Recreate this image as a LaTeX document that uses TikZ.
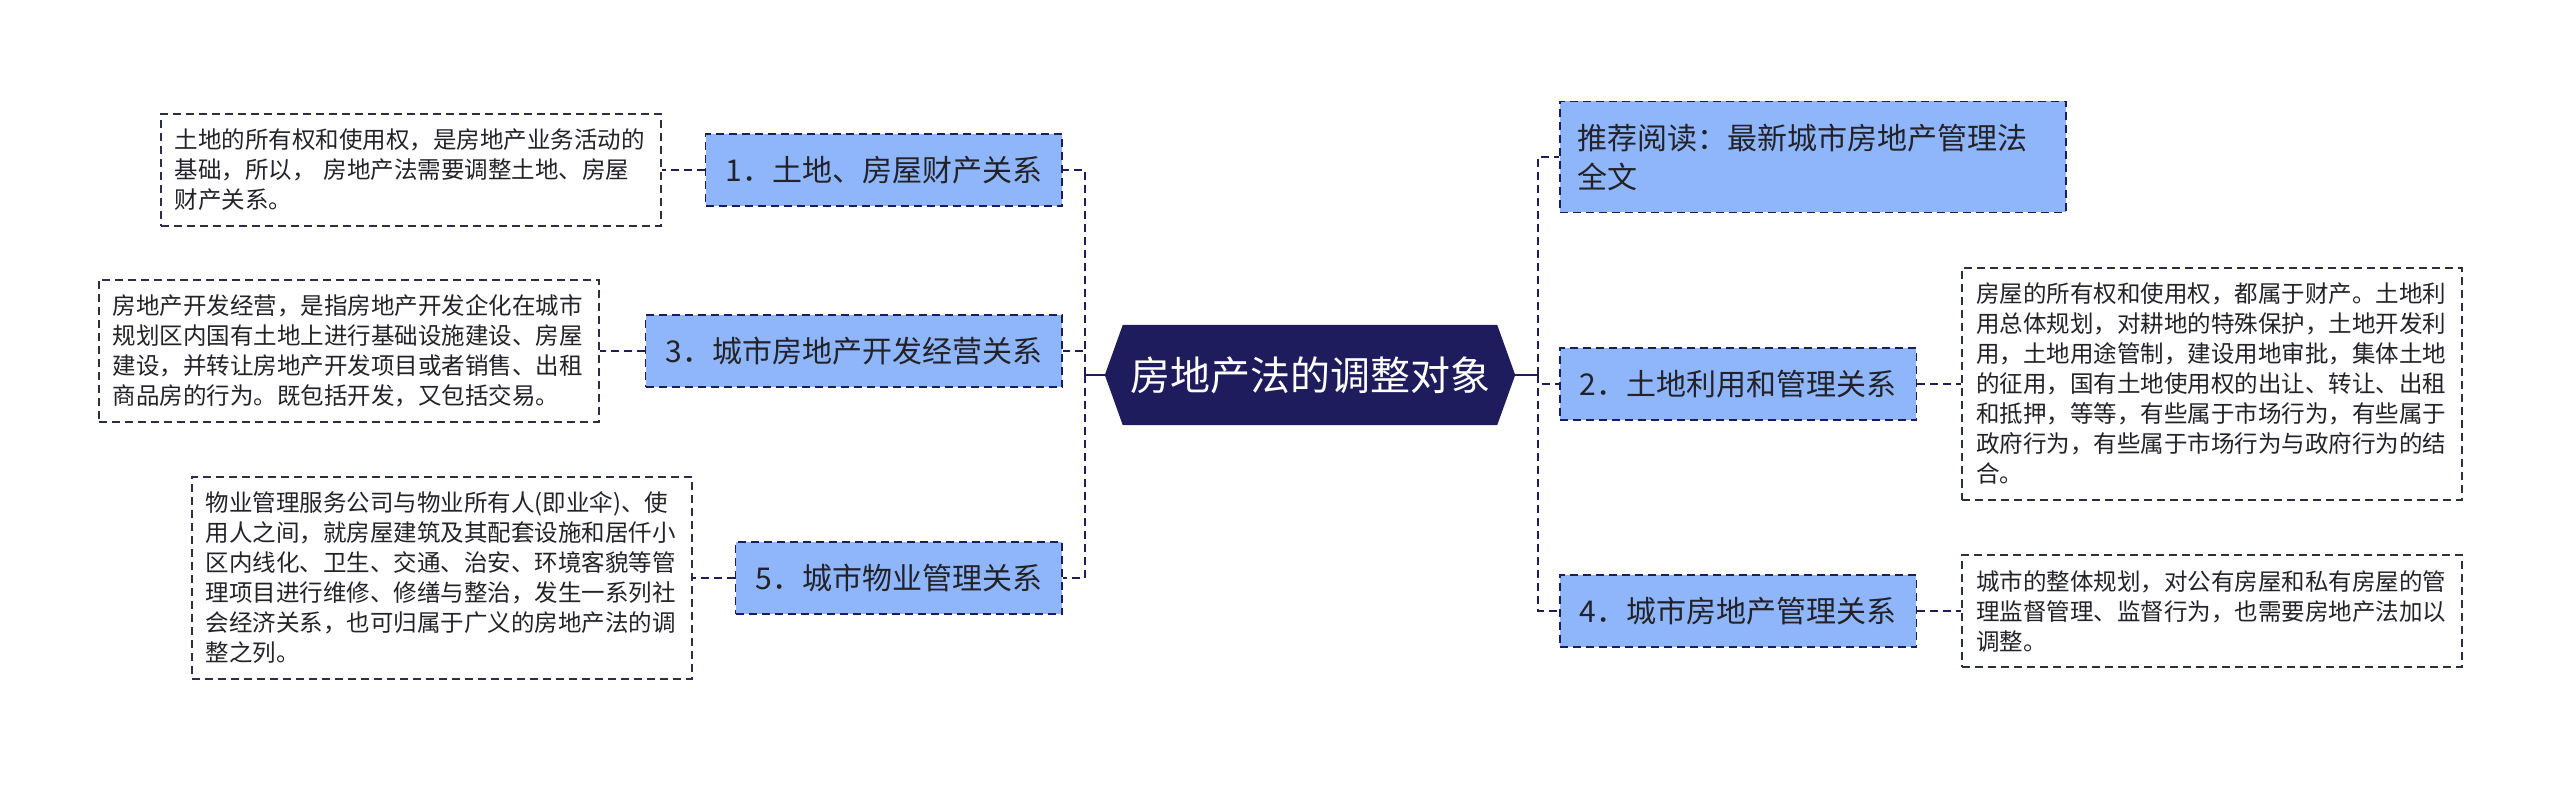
\documentclass[tikz,border=0pt]{standalone}
\usepackage{fontspec}
\setmainfont{Noto Sans CJK SC}
\usetikzlibrary{positioning,backgrounds}
\definecolor{navy}{RGB}{30,28,92}
\definecolor{branchfill}{RGB}{143,181,250}
\definecolor{leafline}{RGB}{45,45,70}
\definecolor{txt}{RGB}{34,34,40}

\begin{document}
\begin{tikzpicture}[x=1pt, y=-1pt,
    root/.style={minimum width=374pt, minimum height=100pt, inner sep=0pt, text=white, font=\fontsize{40}{48}\selectfont},
    branch/.style={fill=branchfill, draw=navy, line width=1.6pt, dash pattern=on 8pt off 5pt, minimum height=72pt, inner xsep=20pt, inner ysep=0pt, text=txt, font=\fontsize{30}{39}\selectfont},
    leaf/.style={draw=leafline, line width=1.6pt, dash pattern=on 8pt off 5pt, text width=472pt, align=left, inner xsep=14pt, inner ysep=15pt, text=txt, font=\fontsize{23.5}{30}\selectfont},
    link/.style={draw=navy, line width=2.4pt, dash pattern=on 8pt off 5pt},
    stub/.style={draw=navy, line width=2.4pt}]
    \useasboundingbox (0,0) rectangle (2560,786);

    % 中心主题
    \node[root] (root) at (1310,375) {房地产法的调整对象};
    \begin{scope}[on background layer]
        \fill[navy] (root.north west) -- (root.north east) -- ([xshift=18pt]root.east) -- (root.south east) -- (root.south west) -- ([xshift=-18pt]root.west) -- cycle;
    \end{scope}
    \coordinate (rootL) at ([xshift=-18pt]root.west);
    \coordinate (rootR) at ([xshift=18pt]root.east);

    % 左侧分支
    \node[branch, anchor=east] (b1) at (1063,170) {1．土地、房屋财产关系};
    \node[branch, anchor=east] (b3) at (1063,351) {3．城市房地产开发经营关系};
    \node[branch, anchor=east] (b5) at (1063,578) {5．城市物业管理关系};

    % 右侧分支
    \node[branch, anchor=west, text width=470pt, align=left, inner xsep=18pt, minimum height=111pt] (b0) at (1559,157) {推荐阅读：最新城市房地产管理法\\全文};
    \node[branch, anchor=west] (b2) at (1559,384) {2．土地利用和管理关系};
    \node[branch, anchor=west] (b4) at (1559,611) {4．城市房地产管理关系};

    % 说明文字
    \node[leaf, left=43pt of b1] (l1) {土地的所有权和使用权，是房地产业务活动的\\基础，所以， 房地产法需要调整土地、房屋\\财产关系。};
    \node[leaf, left=45pt of b3] (l3) {房地产开发经营，是指房地产开发企化在城市\\规划区内国有土地上进行基础设施建设、房屋\\建设，并转让房地产开发项目或者销售、出租\\商品房的行为。既包括开发，又包括交易。};
    \node[leaf, left=42pt of b5] (l5) {物业管理服务公司与物业所有人(即业伞)、使\\用人之间，就房屋建筑及其配套设施和居仟小\\区内线化、卫生、交通、治安、环境客貌等管\\理项目进行维修、修缮与整治，发生一系列社\\会经济关系，也可归属于广义的房地产法的调\\整之列。};
    \node[leaf, right=44pt of b2] (l2) {房屋的所有权和使用权，都属于财产。土地利\\用总体规划，对耕地的特殊保护，土地开发利\\用，土地用途管制，建设用地审批，集体土地\\的征用，国有土地使用权的出让、转让、出租\\和抵押，等等，有些属于市场行为，有些属于\\政府行为，有些属于市场行为与政府行为的结\\合。};
    \node[leaf, right=44pt of b4] (l4) {城市的整体规划，对公有房屋和私有房屋的管\\理监督管理、监督行为，也需要房地产法加以\\调整。};

    % 连线
    \coordinate (busL) at (1085,375);
    \coordinate (busR) at (1538,375);
    \draw[stub] (rootL) -- (busL);
    \draw[stub] (rootR) -- (busR);
    \foreach \b in {b1,b3,b5} \draw[link] (busL) |- (\b.east);
    \foreach \b in {b0,b2,b4} \draw[link] (busR) |- (\b.west);
    \foreach \b/\l in {b1/l1,b3/l3,b5/l5} \draw[link] (\b.west) -- (\l.east);
    \foreach \b/\l in {b2/l2,b4/l4} \draw[link] (\b.east) -- (\l.west);
\end{tikzpicture}
\end{document}
